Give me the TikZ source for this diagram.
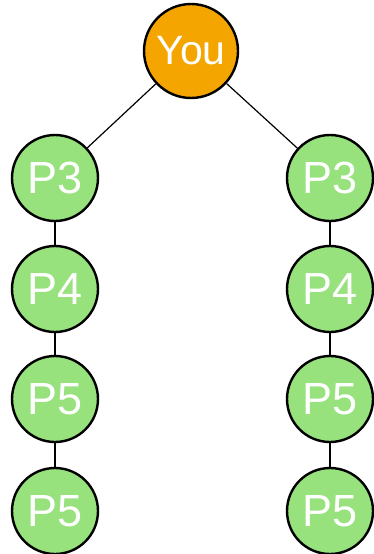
\documentclass[tikz,border=0pt]{standalone}
\usepackage{fontspec}
\setmainfont{Liberation Sans}
\definecolor{youorange}{HTML}{F5A500}
\definecolor{pgreen}{HTML}{98E27E}
\begin{document}
\begin{tikzpicture}[x=1pt,y=-1pt,
  person/.style={circle, draw=black, line width=2.4pt, minimum size=86pt, inner sep=0pt, text=white, font=\fontsize{45}{45}\selectfont},
  youstyle/.style={person, fill=youorange, minimum size=94pt, font=\fontsize{41}{41}\selectfont},
  pstyle/.style={person, fill=pgreen},
  link/.style={draw=black, line width=1.2pt}]
\useasboundingbox (0,0) rectangle (374,554);
\node[youstyle] (you) at (191,51) {You};
\node[pstyle] (l3) at (55,178) {P3};
\node[pstyle] (l4) at (55,289) {P4};
\node[pstyle] (l5a) at (55,399) {P5};
\node[pstyle] (l5b) at (55,511) {P5};
\node[pstyle] (r3) at (330,178) {P3};
\node[pstyle] (r4) at (330,289) {P4};
\node[pstyle] (r5a) at (330,399) {P5};
\node[pstyle] (r5b) at (330,511) {P5};
\draw[link] (you) -- (l3);
\draw[link] (you) -- (r3);
\draw[link] (l3) -- (l4);
\draw[link] (l4) -- (l5a);
\draw[link] (l5a) -- (l5b);
\draw[link] (r3) -- (r4);
\draw[link] (r4) -- (r5a);
\draw[link] (r5a) -- (r5b);
\end{tikzpicture}
\end{document}
